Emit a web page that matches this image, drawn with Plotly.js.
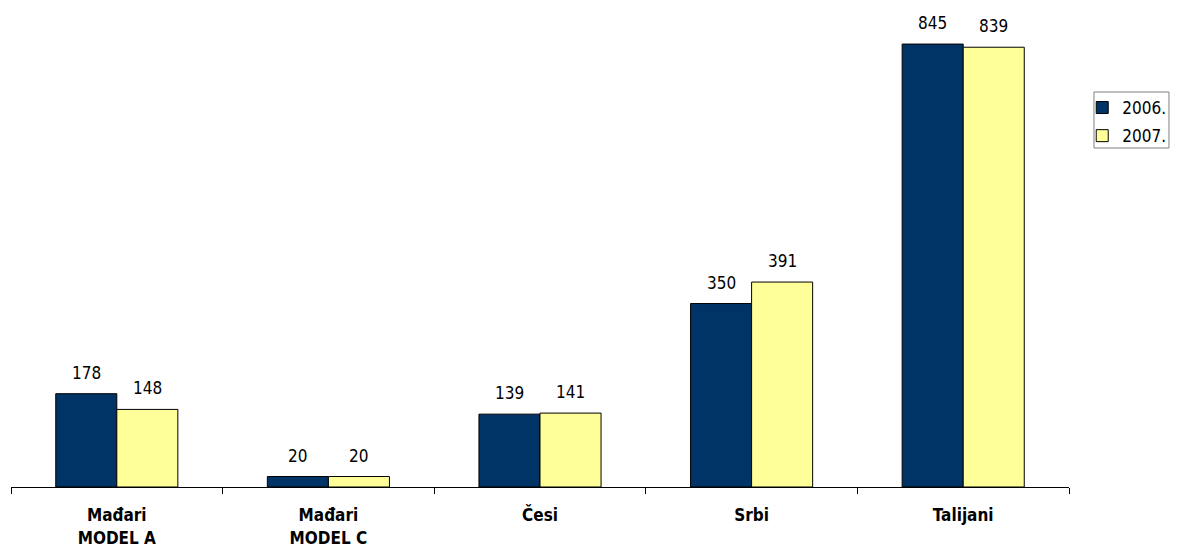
<!DOCTYPE html>
<html>
<head>
<meta charset="utf-8">
<script src="https://cdn.plot.ly/plotly-3.0.1.min.js"></script>
<style>html,body{margin:0;padding:0;background:#fff;}#chart{width:1180px;height:552px;}</style>
</head>
<body>
<div id="chart"></div>
<script>
var categories = ["Mađari<br>MODEL A", "Mađari<br>MODEL C", "Česi", "Srbi", "Talijani"];
var values2006 = [178, 20, 139, 350, 845];
var values2007 = [148, 20, 141, 391, 839];
var seriesNames = ["2006.", "2007."];

var font = "'DejaVu Sans Condensed', 'DejaVu Sans', sans-serif";
var cats = categories.map(function(c){ return "<b>" + c + "</b>"; });

var traces = [
  {type:"bar", name:seriesNames[0], legendgroup:"a", x:cats, y:values2006, hoverinfo:"none",
   marker:{color:"#003366", line:{color:"#000", width:1}}},
  {type:"bar", name:seriesNames[1], legendgroup:"b", x:cats, y:values2007, hoverinfo:"none",
   marker:{color:"#FFFF99", line:{color:"#000", width:1}}}
];

var annotations = [];
[values2006, values2007].forEach(function(vals, s){
  vals.forEach(function(v, i){
    annotations.push({x:cats[i], y:v, xref:"x", yref:"y", text:String(v), showarrow:false,
      xanchor:"center", yanchor:"bottom", xshift:(s === 0 ? -30.5 : 30.5), yshift:9,
      font:{family:font, size:17, color:"#000"}});
  });
});

var layout = {
  width:1180, height:552,
  margin:{l:11, r:111, t:10, b:65, autoexpand:false},
  paper_bgcolor:"#fff", plot_bgcolor:"#fff",
  barmode:"group", bargap:0.423, bargroupgap:0,
  font:{family:font, size:17, color:"#000"},
  showlegend:true,
  legend:{x:1.0125, y:0.8323, xanchor:"left", yanchor:"top",
          borderwidth:0, bgcolor:"rgba(0,0,0,0)", traceorder:"grouped",
          font:{family:font, size:17, color:"#000"}, itemwidth:30, tracegroupgap:3},
  shapes:[{type:"rect", xref:"paper", yref:"paper", x0:1.0236, x1:1.0945, y0:0.7107, y1:0.8281,
           line:{color:"#808080", width:1}, fillcolor:"rgba(0,0,0,0)"}],
  annotations:annotations,
  xaxis:{showline:true, linecolor:"#000", linewidth:1, ticks:"outside", tickson:"boundaries",
         ticklen:6, tickcolor:"#000", showgrid:false, zeroline:false, ticklabelstandoff:13,
         tickfont:{family:font, size:17, color:"#000"}, automargin:false},
  yaxis:{range:[0, 910], visible:false, showgrid:false, zeroline:false, fixedrange:true}
};

Plotly.newPlot("chart", traces, layout, {displayModeBar:false, staticPlot:true});
</script>
</body>
</html>
